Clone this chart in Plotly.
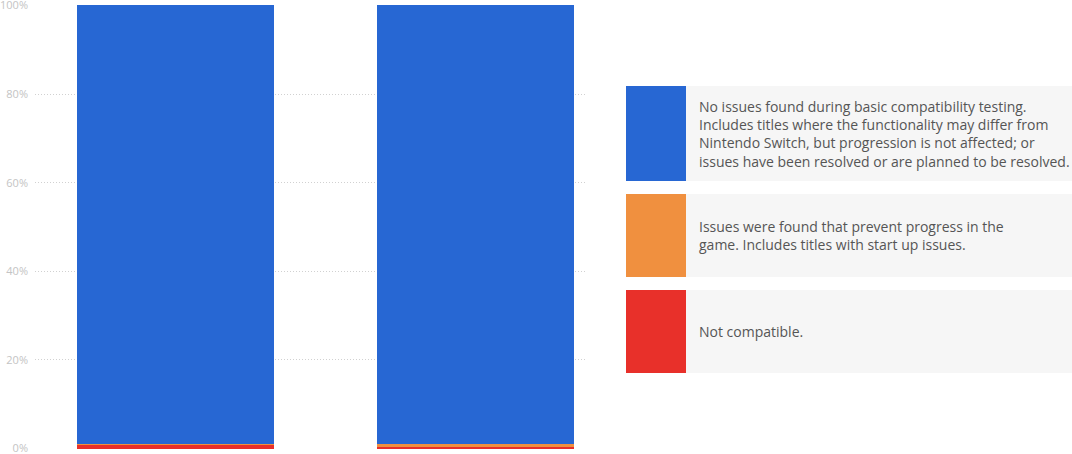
import plotly.graph_objects as go

# Two systems, share of titles by compatibility status (percent)
systems = ["A", "B"]
not_compatible = [0.9, 0.3]
prevents_progress = [0.1, 0.8]
no_issues = [99.0, 98.9]

series_names = ["Not compatible", "Prevents progress", "No issues"]
series_colors = ["#e8302a", "#f0903f", "#2767d3"]

y_ticks = [0, 20, 40, 60, 80, 100]
y_tick_labels = ["0%", "20%", "40%", "60%", "80%", "100%"]

legend_texts = [
    "No issues found during basic compatibility testing.<br>"
    "Includes titles where the functionality may differ from<br>"
    "Nintendo Switch, but progression is not affected; or<br>"
    "issues have been resolved or are planned to be resolved.",
    "Issues were found that prevent progress in the<br>"
    "game. Includes titles with start up issues.",
    "Not compatible.",
]
legend_colors = ["#2767d3", "#f0903f", "#e8302a"]

x_pos = [0, 1]

fig = go.Figure()
for name, vals, color in zip(series_names,
                             [not_compatible, prevents_progress, no_issues],
                             series_colors):
    fig.add_trace(go.Bar(x=x_pos, y=vals, name=name, marker_color=color,
                         marker_line_width=0, width=0.657, showlegend=False))

fig.update_layout(
    width=1072, height=454,
    barmode="stack",
    margin=dict(l=35, r=487, t=5, b=5),
    plot_bgcolor="white", paper_bgcolor="white",
    font=dict(family="Open Sans", color="#444"),
    xaxis=dict(range=[-0.468, 1.365], showticklabels=False, showgrid=False,
               zeroline=False, fixedrange=True, automargin=False),
    yaxis=dict(range=[-0.1, 100.1], tickvals=y_ticks, ticktext=y_tick_labels,
               showgrid=True, gridcolor="rgba(190,190,190,0.7)",
               griddash="1px,2px", gridwidth=1, zeroline=False,
               tickfont=dict(size=11, color="#c4c4c4"), ticks="",
               ticklabeloverflow="allow", ticklabelstandoff=6,
               layer="above traces", automargin=False),
)

# custom legend on the right (pixel -> paper conversion)
def px_x(p):
    return (p - 35) / 550

def px_y(p):
    return (449 - p) / 444

boxes = [(86, 181), (194, 277), (290, 373)]
for (top, bot), color, text in zip(boxes, legend_colors, legend_texts):
    fig.add_shape(type="rect", xref="paper", yref="paper",
                  x0=px_x(686), x1=px_x(1072), y0=px_y(bot), y1=px_y(top),
                  fillcolor="#f6f6f6", line_width=0, layer="below")
    fig.add_shape(type="rect", xref="paper", yref="paper",
                  x0=px_x(626), x1=px_x(686), y0=px_y(bot), y1=px_y(top),
                  fillcolor=color, line_width=0)
    fig.add_annotation(xref="paper", yref="paper", x=px_x(697),
                       y=px_y((top + bot) / 2), text=text, showarrow=False,
                       xanchor="left", yanchor="middle", align="left",
                       font=dict(size=14, color="#555"))

fig.write_html("out.html", config={"displayModeBar": False},
               post_script="document.body.style.margin='0';")
